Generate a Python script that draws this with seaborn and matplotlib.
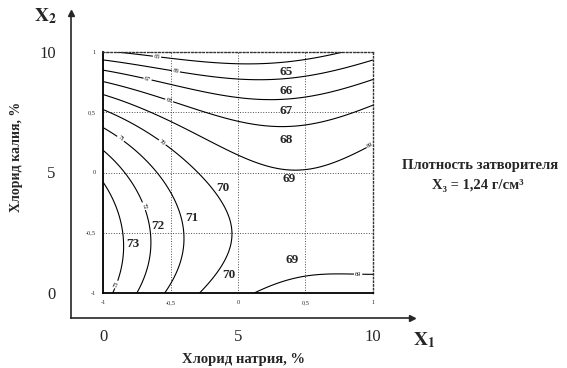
import numpy as np
import pandas as pd
import seaborn as sns
import matplotlib
matplotlib.use("Agg")
import matplotlib.pyplot as plt

# Isoline points, coded units (x1, x2) in [-1, 1]
iso_65 = [(-1, 0.99), (-0.5, 0.96), (0, 0.92), (0.5, 0.95), (0.8, 1.0)]
iso_66 = [(-1, 0.93), (-0.5, 0.85), (0, 0.77), (0.5, 0.77), (1, 0.93)]
iso_67 = [(-1, 0.86), (-0.5, 0.73), (0, 0.62), (0.46, 0.60), (1, 0.78)]
iso_68 = [(-1, 0.77), (-0.5, 0.60), (-0.3, 0.49), (0, 0.42), (0.39, 0.38), (1, 0.56)]
iso_69 = [(-1, 0.66), (-0.5, 0.40), (-0.28, 0.29), (0, 0.16), (0.39, 0.05), (0.7, 0.12), (1, 0.31),
          (0.07, -1), (0.3, -0.86), (0.55, -0.80), (0.8, -0.84), (1, -0.91)]
iso_70 = [(-1, 0.53), (-0.5, 0.19), (-0.3, 0.0), (-0.12, -0.25), (-0.04, -0.5), (-0.1, -0.75), (-0.28, -1)]
iso_71 = [(-1, 0.37), (-0.79, 0.19), (-0.6, 0.0), (-0.45, -0.25), (-0.39, -0.48), (-0.43, -0.75), (-0.53, -1)]
iso_72 = [(-1, 0.19), (-0.84, 0.0), (-0.7, -0.25), (-0.64, -0.5), (-0.67, -0.75), (-0.74, -1)]
iso_73 = [(-1, -0.1), (-0.9, -0.3), (-0.85, -0.5), (-0.87, -0.75), (-0.93, -1)]

# estimated values inside the 69..70 zone on the right (no closed isoline there)
zone_x1 = [0.3, 0.55, 0.6, 0.85, 1.0, 1.0]
zone_x2 = [-0.45, -0.6, -0.35, -0.3, -0.1, -0.55]
zone_y = [69.7, 69.45, 69.6, 69.5, 69.4, 69.3]

levels = [65, 66, 67, 68, 69, 70, 71, 72, 73]
isolines = [iso_65, iso_66, iso_67, iso_68, iso_69, iso_70, iso_71, iso_72, iso_73]

coded_ticks = [-1, -0.5, 0, 0.5, 1]
coded_ticklabels = ["-1", "-0,5", "0", "0,5", "1"]
natural_ticks = [0, 5, 10]

# bold value labels written on the chart
value_labels = ["65", "66", "67", "68", "69", "70", "71", "72", "73", "70", "69"]
value_label_pos = [(0.36, 0.83), (0.36, 0.68), (0.36, 0.51), (0.36, 0.27), (0.38, -0.05),
                   (-0.11, -0.13), (-0.34, -0.38), (-0.59, -0.44), (-0.78, -0.59),
                   (-0.07, -0.85), (0.40, -0.73)]

rows = []
for lv, pts in zip(levels, isolines):
    for x, y in pts:
        rows.append((x, y, lv))
for x, y, v in zip(zone_x1, zone_x2, zone_y):
    rows.append((x, y, v))
df = pd.DataFrame(rows, columns=["x1", "x2", "y"])

deg = 4
def basis(x, y):
    return np.column_stack([x**i * y**j for i in range(deg + 1) for j in range(deg + 1 - i)])

coef = np.linalg.lstsq(basis(df.x1.values, df.x2.values), df.y.values, rcond=None)[0]
g = np.linspace(-1, 1, 201)
X, Y = np.meshgrid(g, g)
Z = (basis(X.ravel(), Y.ravel()) @ coef).reshape(X.shape)

sns.set_style("white")
plt.rcParams["font.family"] = ["Liberation Serif", "DejaVu Serif"]
plt.rcParams["mathtext.fontset"] = "stix"

fig = plt.figure(figsize=(5.67, 3.68), dpi=100)

# outer axes in natural units (%)
ax0 = fig.add_axes([71 / 567, 50 / 368, 341 / 567, 305 / 368])
ax0.set_xlim(-1.185, 11.44)
ax0.set_ylim(-1.04, 11.62)
for s in ["top", "right"]:
    ax0.spines[s].set_visible(False)
for s in ["left", "bottom"]:
    ax0.spines[s].set_color("0.15")
    ax0.spines[s].set_linewidth(1.2)
ax0.set_xticks(natural_ticks)
ax0.set_yticks(natural_ticks)
ax0.tick_params(length=0, labelsize=12)
ax0.tick_params(axis="x", pad=8)
ax0.tick_params(axis="y", pad=11)
ax0.plot(1, 0, ">", color="0.15", ms=5, transform=ax0.transAxes, clip_on=False)
ax0.plot(0, 1, "^", color="0.15", ms=5, transform=ax0.transAxes, clip_on=False)
ax0.patch.set_alpha(0)

# inner axes in coded units
ax = fig.add_axes([103 / 567, 75 / 368, 270 / 567, 241 / 368])
cs = ax.contour(X, Y, Z, levels=levels, colors="k", linewidths=0.8)
ax.clabel(cs, fmt="%d", fontsize=4.5, inline=True, inline_spacing=1)
ax.set_xlim(-1, 1)
ax.set_ylim(-1, 1)
ax.set_xticks(coded_ticks)
ax.set_xticklabels(coded_ticklabels)
ax.set_yticks(coded_ticks)
ax.set_yticklabels(coded_ticklabels)
ax.tick_params(labelsize=4.5, length=3, width=0.5, direction="out", pad=2)
ax.grid(True, ls=":", color="0.3", lw=0.7)
for s in ["left", "bottom"]:
    ax.spines[s].set_linewidth(1.3)
    ax.spines[s].set_color("k")
for s in ["top", "right"]:
    ax.spines[s].set_linestyle(":")
    ax.spines[s].set_linewidth(1.0)
    ax.spines[s].set_color("0.2")

for s, (x, y) in zip(value_labels, value_label_pos):
    ax.text(x, y, s, fontsize=9.5, fontweight="bold", ha="center", va="center")

fig.text(45 / 567, 1 - 16 / 368, r"$\mathbf{X_2}$", fontsize=14, ha="center", va="center")
fig.text(424 / 567, 1 - 340 / 368, r"$\mathbf{X_1}$", fontsize=14, ha="center", va="center")
fig.text(17 / 567, 1 - 157 / 368, "Хлорид калия, %", rotation=90, fontsize=10,
         fontweight="bold", ha="center", va="center")
fig.text(244 / 567, 1 - 360 / 368, "Хлорид натрия, %", fontsize=10.5,
         fontweight="bold", ha="center", va="center")
fig.text(480 / 567, 1 - 165 / 368, "Плотность затворителя", fontsize=10.5,
         fontweight="bold", ha="center", va="center")
fig.text(478 / 567, 1 - 186 / 368, "X₃ = 1,24 г/см³", fontsize=10.5,
         fontweight="bold", ha="center", va="center")

fig.savefig("out.png", dpi=100)
